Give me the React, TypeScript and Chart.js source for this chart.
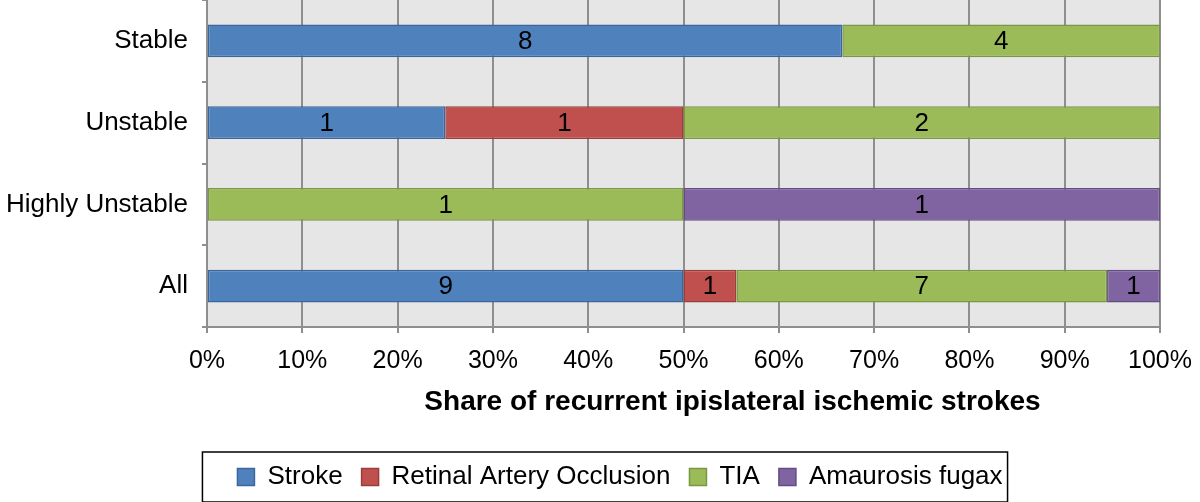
import React, { useEffect, useRef } from "react";
import { Chart, registerables } from "chart.js";

Chart.register(...registerables);

const categories = ["Stable", "Unstable", "Highly Unstable", "All"];
const seriesNames = ["Stroke", "Retinal Artery Occlusion", "TIA", "Amaurosis fugax"];
const strokeCounts = [8, 1, 0, 9];
const raoCounts = [0, 1, 0, 1];
const tiaCounts = [4, 2, 1, 7];
const amaurosisCounts = [0, 0, 1, 1];
const xTickValues = [0, 10, 20, 30, 40, 50, 60, 70, 80, 90, 100];
const axisTitle = "Share of recurrent ipislateral ischemic strokes";

const fills = ["#4F81BD", "#C0504D", "#9BBB59", "#8064A2"];
const borders = ["#3A679C", "#9B3D3A", "#7A9844", "#634C83"];

const FONT = "'Liberation Sans', Arial, Helvetica, sans-serif";

export default function App() {
  const ref = useRef<HTMLCanvasElement | null>(null);

  useEffect(() => {
    if (!ref.current) return;
    const counts = [strokeCounts, raoCounts, tiaCounts, amaurosisCounts];
    const totals = categories.map((_, i) => counts.reduce((s, c) => s + c[i], 0));
    const datasets = counts.map((c, di) => ({
      label: seriesNames[di],
      data: c.map((v, i) => (v / totals[i]) * 100),
      backgroundColor: fills[di],
      borderColor: borders[di],
      borderWidth: 1.5,
      borderSkipped: false,
      barPercentage: 0.4,
      categoryPercentage: 1,
    }));

    const bgPlugin = {
      id: "plotBg",
      afterLayout(chart: any) {
        const lg = chart.legend;
        if (lg) {
          lg.left += 40;
          lg.right += 40;
        }
      },
      beforeDraw(chart: any) {
        const { ctx, chartArea } = chart;
        ctx.save();
        ctx.fillStyle = "#E6E6E6";
        ctx.fillRect(chartArea.left, chartArea.top, chartArea.right - chartArea.left, chartArea.bottom - chartArea.top);
        ctx.restore();
      },
    };

    const labelPlugin = {
      id: "segLabels",
      afterDatasetsDraw(chart: any) {
        const { ctx } = chart;
        ctx.save();
        ctx.font = `26px ${FONT}`;
        ctx.fillStyle = "#000";
        ctx.textAlign = "center";
        ctx.textBaseline = "middle";
        counts.forEach((c, di) => {
          const meta = chart.getDatasetMeta(di);
          meta.data.forEach((bar: any, i: number) => {
            if (!c[i]) return;
            const p = bar.getProps(["x", "base", "y"], true);
            ctx.fillText(String(c[i]), (p.x + p.base) / 2, p.y + 1);
          });
        });
        ctx.restore();
      },
    };

    const decorPlugin = {
      id: "decor",
      afterDraw(chart: any) {
        const { ctx, chartArea } = chart;
        ctx.save();
        ctx.font = `bold 28px ${FONT}`;
        ctx.fillStyle = "#000";
        ctx.textAlign = "center";
        ctx.textBaseline = "middle";
        ctx.fillText(axisTitle, (chartArea.left + chartArea.right) / 2 + 49, chartArea.bottom + 75);
        const lg = chart.legend;
        const hb = lg.legendHitBoxes;
        if (hb && hb.length) {
          const left = hb[0].left;
          const last = hb[hb.length - 1];
          const right = last.left + last.width;
          const cy = hb[0].top + hb[0].height / 2;
          ctx.strokeStyle = "#000";
          ctx.lineWidth = 1.5;
          ctx.strokeRect(left - 35, cy - 25, right - left + 40, 50);
        }
        ctx.restore();
      },
    };

    const chart = new Chart(ref.current, {
      type: "bar",
      data: { labels: categories, datasets },
      options: {
        indexAxis: "y",
        animation: false,
        responsive: false,
        layout: { padding: { left: 0, right: 40, top: 0, bottom: 2 } },
        scales: {
          x: {
            stacked: true,
            min: 0,
            max: 100,
            afterBuildTicks(scale: any) {
              scale.ticks = xTickValues.map((v) => ({ value: v }));
            },
            afterFit(scale: any) {
              scale.height = 118;
              scale.paddingLeft = 0;
              scale.paddingRight = 0;
            },
            ticks: {
              callback: (v: any) => `${v}%`,
              font: { size: 25, family: FONT },
              color: "#000",
              padding: 13,
              maxRotation: 0,
            },
            grid: { color: "#8E8E8E", lineWidth: 2, tickLength: 6, drawTicks: true },
            border: { display: true, color: "#8E8E8E", width: 2 },
          },
          y: {
            stacked: true,
            afterFit(scale: any) {
              scale.width = 207;
              scale.paddingTop = 0;
              scale.paddingBottom = 0;
            },
            ticks: { font: { size: 26, family: FONT }, color: "#000", padding: 14 },
            grid: { drawOnChartArea: false, color: "#8E8E8E", lineWidth: 2, tickLength: 5, offset: true },
            border: { display: true, color: "#8E8E8E", width: 2 },
          },
        },
        plugins: {
          legend: {
            position: "bottom",
            labels: {
              font: { size: 26, family: FONT },
              color: "#000",
              boxWidth: 17,
              boxHeight: 17,
              padding: 19,
            },
          },
          tooltip: { enabled: false },
        },
      },
      plugins: [bgPlugin, labelPlugin, decorPlugin],
    } as any);
    return () => chart.destroy();
  }, []);

  return (
    <div style={{ position: "fixed", left: 0, top: 0, width: 1200, height: 502, background: "#fff" }}>
      <canvas ref={ref} width={1200} height={502} style={{ display: "block" }} />
    </div>
  );
}
